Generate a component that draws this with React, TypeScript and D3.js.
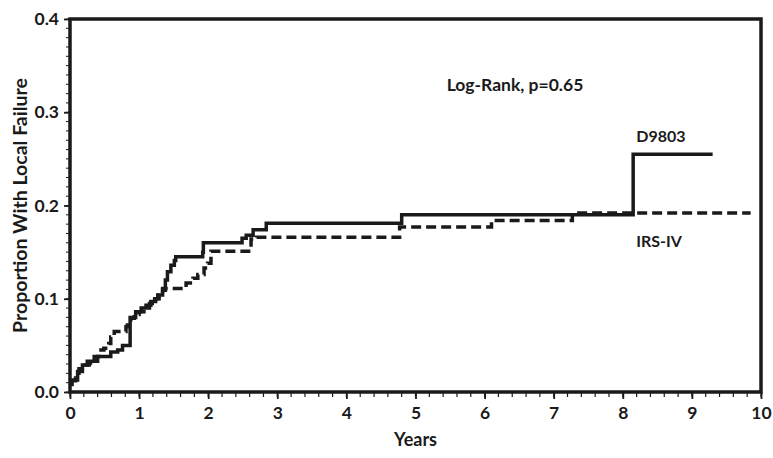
import React, { useEffect, useRef } from 'react'
import * as d3 from 'd3'

// D9803 (solid) cumulative incidence of local failure, step points
const d9803Times = [0, 0.03, 0.11, 0.18, 0.25, 0.4, 0.59, 0.69, 0.76, 0.87, 0.95, 1.03, 1.1, 1.17, 1.24, 1.29, 1.34, 1.38, 1.41, 1.46, 1.51, 1.53, 1.92, 1.93, 2.49, 2.55, 2.65, 2.84, 4.8, 8.15, 9.3]
const d9803Values = [0.008, 0.013, 0.022, 0.029, 0.033, 0.038, 0.043, 0.045, 0.05, 0.08, 0.086, 0.09, 0.093, 0.097, 0.1, 0.104, 0.109, 0.12, 0.129, 0.136, 0.141, 0.145, 0.15, 0.16, 0.165, 0.168, 0.174, 0.181, 0.19, 0.255, 0.255]

// IRS-IV (dashed)
const irsTimes = [0, 0.08, 0.13, 0.2, 0.28, 0.35, 0.42, 0.49, 0.56, 0.59, 0.64, 0.81, 0.83, 0.88, 0.93, 1.0, 1.07, 1.15, 1.19, 1.27, 1.34, 1.68, 1.78, 1.85, 1.94, 1.99, 2.04, 2.62, 2.7, 4.77, 6.1, 7.27, 9.85]
const irsValues = [0.012, 0.02, 0.025, 0.029, 0.031, 0.038, 0.045, 0.047, 0.052, 0.059, 0.065, 0.07, 0.075, 0.079, 0.083, 0.086, 0.09, 0.095, 0.1, 0.104, 0.111, 0.117, 0.122, 0.126, 0.133, 0.138, 0.151, 0.164, 0.166, 0.177, 0.184, 0.192, 0.192]

const xTicks = [0, 1, 2, 3, 4, 5, 6, 7, 8, 9, 10]
const yTicks = [0, 0.1, 0.2, 0.3, 0.4]

const width = 773
const height = 458
const margin = { top: 19, right: 12, bottom: 66, left: 70 }
const font = 'Lato, "Open Sans", sans-serif'
const ink = '#1a1a1a'

export default function App() {
  const ref = useRef<SVGSVGElement>(null)

  useEffect(() => {
    const svg = d3.select(ref.current)
    svg.selectAll('*').remove()

    const x = d3.scaleLinear().domain([0, 10]).range([margin.left, width - margin.right])
    const y = d3.scaleLinear().domain([0, 0.4]).range([height - margin.bottom, margin.top])

    // minor ticks
    const xMinor = d3.range(0, 10.001, 0.2)
    svg.append('g').selectAll('line').data(xMinor).join('line')
      .attr('x1', d => x(d)).attr('x2', d => x(d))
      .attr('y1', y(0)).attr('y2', y(0) + 5)
      .attr('stroke', ink).attr('stroke-width', 1.2)
    const yMinor = d3.range(0, 0.4001, 0.01)
    svg.append('g').selectAll('line').data(yMinor).join('line')
      .attr('x1', x(0) - 4).attr('x2', x(0))
      .attr('y1', d => y(d)).attr('y2', d => y(d))
      .attr('stroke', ink).attr('stroke-width', 1)

    // major axes
    const xAxis = d3.axisBottom(x).tickValues(xTicks).tickFormat(d3.format('d')).tickSize(7).tickPadding(5)
    const gx = svg.append('g').attr('transform', `translate(0,${y(0)})`).call(xAxis)
    const yAxis = d3.axisLeft(y).tickValues(yTicks).tickFormat(d3.format('.1f')).tickSize(6).tickPadding(5)
    const gy = svg.append('g').attr('transform', `translate(${x(0)},0)`).call(yAxis)
    for (const g of [gx, gy]) {
      g.select('.domain').remove()
      g.selectAll('line').attr('stroke', ink).attr('stroke-width', 1.8)
      g.selectAll('text').attr('font-family', font).attr('font-weight', 700)
        .attr('font-size', 17.5).attr('fill', ink)
    }
    gx.selectAll('text').attr('dy', '0.85em')

    // frame
    svg.append('rect')
      .attr('x', x(0)).attr('y', y(0.4))
      .attr('width', x(10) - x(0)).attr('height', y(0) - y(0.4))
      .attr('fill', 'none').attr('stroke', ink).attr('stroke-width', 3.5)

    const line = d3.line<[number, number]>()
      .x(d => x(d[0])).y(d => y(d[1]))
      .curve(d3.curveStepAfter)

    const solid = d3.zip(d9803Times, d9803Values) as [number, number][]
    const dashed = d3.zip(irsTimes, irsValues) as [number, number][]

    svg.append('path').datum(dashed).attr('d', line)
      .attr('fill', 'none').attr('stroke', ink).attr('stroke-width', 3.5)
      .attr('stroke-dasharray', '10,5')
    svg.append('path').datum(solid).attr('d', line)
      .attr('fill', 'none').attr('stroke', ink).attr('stroke-width', 3.5)

    const label = (tx: number, ty: number, s: string, size = 15) =>
      svg.append('text').attr('x', tx).attr('y', ty).text(s)
        .attr('text-anchor', 'middle').attr('font-family', font)
        .attr('font-weight', 700).attr('font-size', size).attr('fill', ink)

    label(x(5), 446, 'Years', 18)
    label(0, 0, 'Proportion With Local Failure', 19.5)
      .attr('transform', `translate(27,${(y(0) + y(0.4)) / 2}) rotate(-90)`)
    label(515, 91, 'Log-Rank, p=0.65', 17.5)
    label(661, 142, 'D9803', 16)
    label(659, 247, 'IRS-IV', 16)
  }, [])

  return (
    <svg ref={ref} width={width} height={height} viewBox={`0 0 ${width} ${height}`}
      style={{ position: 'absolute', left: 0, top: 0, background: '#fff' }} />
  )
}
